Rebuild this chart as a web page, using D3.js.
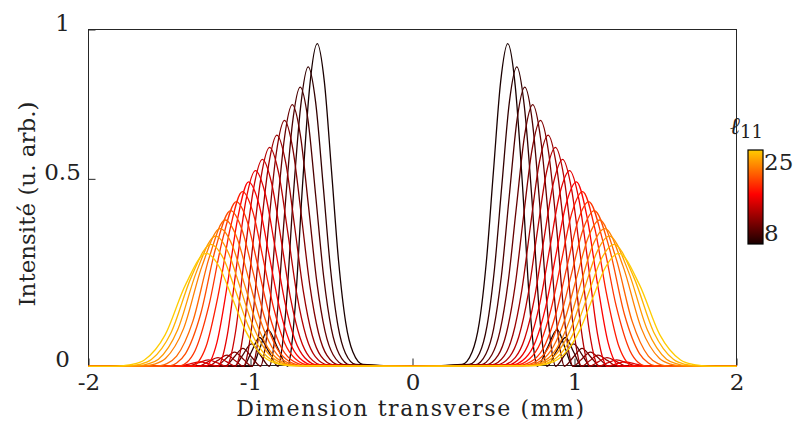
<!DOCTYPE html>
<html>
<head>
<meta charset="utf-8">
<script src="https://cdn.jsdelivr.net/npm/d3@7"></script>
<style>
  html, body { margin: 0; padding: 0; background: #fff; }
  svg { display: block; }
  text { font-family: "DejaVu Serif", "Liberation Serif", serif; fill: #222; }
</style>
</head>
<body>
<script>
// ---------- data ----------
const ellValues = [8, 9, 10, 11, 12, 13, 14, 15, 16, 17, 18, 19, 20, 21, 22, 23, 24, 25];
const xTicks = [-2, -1, 0, 1, 2];
const xTickLabels = ["-2", "-1", "0", "1", "2"];
const yTicks = [0, 0.5, 0.9];
const yTickLabels = ["0", "0.5", "1"];
const cbTicks = [8, 25];
const cbTickLabels = ["8", "25"];

// right half of each (symmetric) profile: [x (mm), intensity]
const I08 = [[0,0],[0.306,0.005],[0.368,0.038],[0.412,0.116],[0.456,0.280],[0.500,0.523],[0.544,0.760],[0.588,0.862],[0.634,0.750],[0.679,0.483],[0.725,0.155],[0.752,0.034],[0.770,0],[0.832,0.049],[0.893,0.098],[0.942,0.049],[0.990,0],[2,0]];
const I09 = [[0,0],[0.350,0.005],[0.414,0.035],[0.460,0.108],[0.506,0.260],[0.552,0.486],[0.598,0.706],[0.644,0.800],[0.690,0.696],[0.737,0.448],[0.783,0.144],[0.811,0.032],[0.829,0],[0.887,0.039],[0.944,0.077],[0.994,0.039],[1.044,0],[2,0]];
const I10 = [[0,0],[0.386,0.004],[0.453,0.033],[0.501,0.101],[0.549,0.242],[0.597,0.453],[0.645,0.658],[0.693,0.746],[0.741,0.649],[0.788,0.418],[0.836,0.134],[0.864,0.030],[0.883,0],[0.939,0.030],[0.995,0.060],[1.048,0.030],[1.100,0],[2,0]];
const I11 = [[0,0],[0.419,0.004],[0.490,0.031],[0.540,0.094],[0.591,0.227],[0.641,0.424],[0.692,0.617],[0.742,0.699],[0.791,0.608],[0.840,0.391],[0.888,0.126],[0.918,0.028],[0.937,0],[0.992,0.024],[1.047,0.048],[1.102,0.024],[1.157,0],[2,0]];
const I12 = [[0,0],[0.454,0.004],[0.528,0.029],[0.580,0.089],[0.633,0.214],[0.685,0.399],[0.738,0.579],[0.790,0.657],[0.840,0.572],[0.890,0.368],[0.940,0.118],[0.970,0.026],[0.990,0],[1.044,0.019],[1.098,0.038],[1.156,0.019],[1.213,0],[2,0]];
const I13 = [[0,0],[0.488,0.004],[0.565,0.027],[0.619,0.083],[0.674,0.201],[0.728,0.375],[0.783,0.545],[0.837,0.618],[0.888,0.538],[0.940,0.346],[0.991,0.111],[1.022,0.025],[1.042,0],[1.094,0.015],[1.145,0.030],[1.205,0.015],[1.265,0],[2,0]];
const I14 = [[0,0],[0.520,0.004],[0.600,0.026],[0.656,0.079],[0.713,0.190],[0.769,0.355],[0.826,0.516],[0.882,0.585],[0.935,0.505],[0.987,0.319],[1.040,0.102],[1.071,0.023],[1.092,0],[1.146,0.012],[1.200,0.023],[1.263,0.012],[1.325,0],[2,0]];
const I15 = [[0,0],[0.553,0.003],[0.635,0.024],[0.693,0.075],[0.752,0.180],[0.810,0.336],[0.869,0.488],[0.927,0.553],[0.982,0.473],[1.037,0.294],[1.092,0.093],[1.125,0.021],[1.147,0],[1.204,0.009],[1.260,0.017],[1.325,0.009],[1.390,0],[2,0]];
const I16 = [[0,0],[0.580,0.003],[0.665,0.023],[0.726,0.071],[0.787,0.170],[0.848,0.317],[0.909,0.461],[0.970,0.523],[1.028,0.444],[1.085,0.271],[1.143,0.084],[1.177,0.019],[1.200,0],[1.255,0.006],[1.310,0.012],[1.378,0.006],[1.445,0],[2,0]];
const I17 = [[0,0],[0.609,0.003],[0.697,0.022],[0.760,0.067],[0.823,0.160],[0.886,0.299],[0.949,0.435],[1.012,0.493],[1.077,0.400],[1.142,0.220],[1.207,0.064],[1.246,0.015],[1.272,0.001],[1.330,0],[2,0]];
const I18 = [[0,0],[0.634,0.003],[0.725,0.021],[0.790,0.063],[0.855,0.152],[0.920,0.283],[0.985,0.412],[1.050,0.467],[1.125,0.369],[1.200,0.189],[1.275,0.052],[1.320,0.013],[1.350,0.001],[1.420,0],[2,0]];
const I19 = [[0,0],[0.659,0.003],[0.753,0.019],[0.820,0.059],[0.887,0.143],[0.954,0.267],[1.021,0.388],[1.088,0.440],[1.173,0.338],[1.258,0.160],[1.343,0.041],[1.394,0.010],[1.428,0.002],[1.500,0],[2,0]];
const I20 = [[0,0],[0.681,0.002],[0.778,0.018],[0.847,0.056],[0.916,0.135],[0.985,0.253],[1.054,0.367],[1.123,0.416],[1.216,0.314],[1.308,0.139],[1.401,0.034],[1.456,0.009],[1.493,0.002],[1.570,0],[2,0]];
const I21 = [[0,0],[0.698,0.002],[0.799,0.017],[0.870,0.053],[0.942,0.127],[1.013,0.237],[1.085,0.345],[1.156,0.391],[1.256,0.289],[1.356,0.120],[1.456,0.027],[1.516,0.007],[1.556,0.002],[1.640,0],[2,0]];
const I22 = [[0,0],[0.717,0.002],[0.820,0.016],[0.893,0.050],[0.967,0.120],[1.040,0.223],[1.114,0.325],[1.187,0.368],[1.300,0.267],[1.412,0.102],[1.525,0.021],[1.592,0.006],[1.637,0.002],[1.720,0],[2,0]];
const I23 = [[0,0],[0.732,0.002],[0.838,0.015],[0.913,0.047],[0.989,0.113],[1.064,0.211],[1.140,0.307],[1.215,0.348],[1.333,0.253],[1.450,0.097],[1.568,0.019],[1.638,0.006],[1.685,0.002],[1.770,0],[2,0]];
const I24 = [[0,0],[0.748,0.002],[0.857,0.014],[0.934,0.044],[1.012,0.106],[1.089,0.198],[1.167,0.288],[1.244,0.326],[1.367,0.237],[1.489,0.091],[1.612,0.018],[1.685,0.005],[1.734,0.002],[1.820,0],[2,0]];
const I25 = [[0,0],[0.763,0.002],[0.875,0.013],[0.954,0.041],[1.034,0.098],[1.113,0.183],[1.193,0.266],[1.272,0.302],[1.400,0.219],[1.527,0.084],[1.655,0.017],[1.731,0.005],[1.782,0.002],[1.870,0],[2,0]];
const profiles = [I08, I09, I10, I11, I12, I13, I14, I15, I16, I17, I18, I19, I20, I21, I22, I23, I24, I25];

// ---------- layout ----------
const W = 797, H = 423;
const L = 88.5, R = 736.5, T = 29.5, B = 365.5;
const FONT = '"DejaVu Serif", "Liberation Serif", serif';

const svg = d3.select("body").append("svg").attr("width", W).attr("height", H);
svg.append("rect").attr("width", W).attr("height", H).attr("fill", "#fff");

const x = d3.scaleLinear().domain([-2, 2]).range([L, R]);
const y = d3.scaleLinear().domain([0, 0.9]).range([B + 0.8, T]);

// MATLAB "hot" colormap (27 levels), first 18 used
function hot(i) {
  const r = Math.min(1, (i + 1) / 10);
  const g = i < 10 ? 0 : Math.min(1, (i - 9) / 10);
  return d3.rgb(Math.round(r * 255), Math.round(g * 255), 0).toString();
}
const color = d3.scaleOrdinal().domain(ellValues).range(ellValues.map((d, i) => hot(i)));

// full symmetric profile from right half
function full(right) {
  const left = right.slice(1).map(([a, b]) => [-a, b]).reverse();
  return left.concat(right);
}

// box
svg.append("rect")
  .attr("x", L).attr("y", T).attr("width", R - L).attr("height", B - T)
  .attr("fill", "none").attr("stroke", "#262626").attr("stroke-width", 1);

// axes
const xAxis = d3.axisBottom(x).tickValues(xTicks)
  .tickFormat((d, i) => xTickLabels[i]).tickSizeInner(-7).tickSizeOuter(0).tickPadding(8);
const gx = svg.append("g").attr("transform", `translate(0,${B})`).call(xAxis);
gx.select(".domain").remove();
gx.selectAll(".tick line").attr("stroke", "#262626");
gx.selectAll("text").attr("font-size", 23).attr("fill", "#222").style("font-family", FONT);

const yAxis = d3.axisLeft(d3.scaleLinear().domain([0, 0.9]).range([B, T])).tickValues(yTicks)
  .tickFormat((d, i) => yTickLabels[i]).tickSizeInner(-7).tickSizeOuter(0).tickPadding(26);
const gy = svg.append("g").attr("transform", `translate(${L},0)`).call(yAxis);
gy.select(".domain").remove();
gy.selectAll(".tick line").attr("stroke", "#262626");
gy.selectAll("text").attr("font-size", 23).attr("fill", "#222")
  .attr("text-anchor", "middle").attr("dy", "0.05em").style("font-family", FONT);

// curves
const line = d3.line().x(d => x(d[0])).y(d => y(d[1])).curve(d3.curveMonotoneX);
svg.append("g").selectAll("path")
  .data(profiles.map((p, i) => ({ ell: ellValues[i], pts: full(p) })))
  .join("path")
  .attr("d", d => line(d.pts))
  .attr("fill", "none")
  .attr("stroke", d => color(d.ell))
  .attr("stroke-width", 1.3)
  .attr("stroke-linejoin", "round");

// axis titles
svg.append("text")
  .attr("x", 411).attr("y", 416)
  .attr("text-anchor", "middle").attr("font-size", 22)
  .attr("letter-spacing", 1.6)
  .text("Dimension transverse (mm)");
svg.append("text")
  .attr("transform", "translate(35,204) rotate(-90)")
  .attr("text-anchor", "middle").attr("font-size", 23)
  .text("Intensité (u. arb.)");

// colorbar
const cbX = 748, cbW = 15, cbTop = 150, cbBot = 244;
const defs = svg.append("defs");
const grad = defs.append("linearGradient").attr("id", "cbgrad")
  .attr("x1", 0).attr("y1", 1).attr("x2", 0).attr("y2", 0);
ellValues.forEach((v, i) => {
  grad.append("stop").attr("offset", (i / (ellValues.length - 1))).attr("stop-color", color(v));
});
svg.append("rect").attr("x", cbX).attr("y", cbTop).attr("width", cbW).attr("height", cbBot - cbTop)
  .attr("fill", "url(#cbgrad)").attr("stroke", "#000").attr("stroke-width", 1.2);
const cb = d3.scaleLinear().domain([8, 25]).range([233, 162]);
svg.append("g").selectAll("text").data(cbTicks).join("text")
  .attr("x", cbX + cbW + 1).attr("y", d => cb(d)).attr("dy", "0.36em")
  .attr("font-size", 23).text((d, i) => cbTickLabels[i]);

const lab = svg.append("text").attr("x", 730).attr("y", 134).attr("font-size", 24);
lab.append("tspan").attr("font-style", "italic").text("ℓ");
lab.append("tspan").attr("font-size", 18).attr("dy", 4).text("11");
</script>
</body>
</html>
